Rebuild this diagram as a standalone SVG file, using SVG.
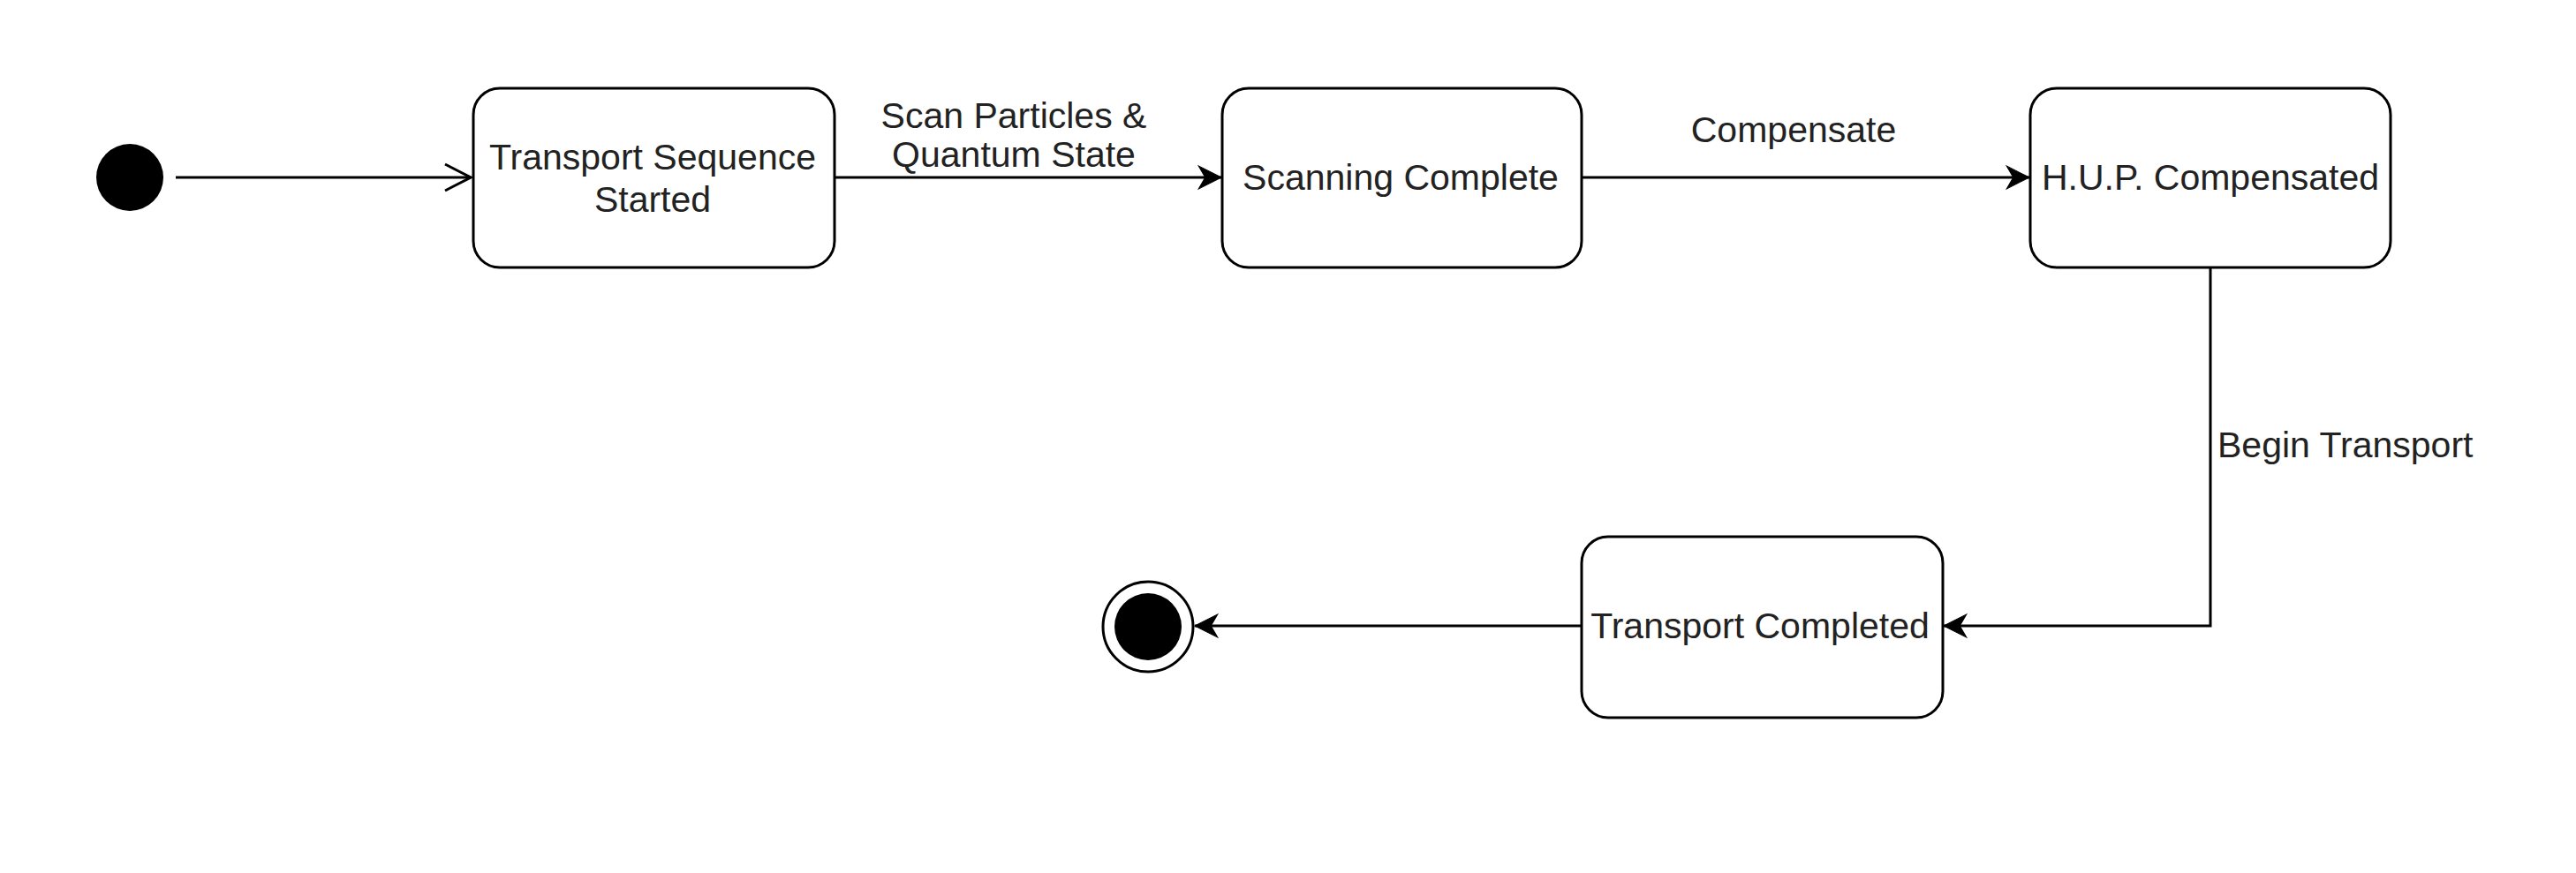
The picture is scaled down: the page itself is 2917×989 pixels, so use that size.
<svg xmlns="http://www.w3.org/2000/svg" width="2917" height="989" viewBox="0 0 2917 989">
  <style>
    .state { fill: #ffffff; stroke: #000000; stroke-width: 3; }
    .lbl { font-family: "Liberation Sans", Arial, sans-serif; font-size: 41px; fill: #222222; }
    .mid { text-anchor: middle; }
    .edge { fill: none; stroke: #000000; stroke-width: 3; }
  </style>
  <defs>
    <marker id="block" markerUnits="userSpaceOnUse" markerWidth="30" markerHeight="30" viewBox="-26 -14 28 28" refX="0" refY="0" orient="auto">
      <path d="M0,0 L-24,-12 L-17,0 L-24,12 Z" fill="#000000" stroke="#000000" stroke-width="1"/>
    </marker>
    <marker id="open" markerUnits="userSpaceOnUse" markerWidth="34" markerHeight="36" viewBox="-32 -17 34 34" refX="0" refY="0" orient="auto">
      <path d="M-29,-15 L0,0 L-29,15" fill="none" stroke="#000000" stroke-width="3"/>
    </marker>
  </defs>
  <rect width="2917" height="989" fill="#ffffff"/>

  <g id="connectors">
    <line class="edge" x1="199" y1="201" x2="533" y2="201" marker-end="url(#open)"/>
    <line class="edge" x1="945" y1="201" x2="1383" y2="201" marker-end="url(#block)"/>
    <line class="edge" x1="1791" y1="201" x2="2298" y2="201" marker-end="url(#block)"/>
    <polyline class="edge" points="2503,303 2503,709 2201,709" marker-end="url(#block)"/>
    <line class="edge" x1="1791" y1="709" x2="1353" y2="709" marker-end="url(#block)"/>
    <text class="lbl mid" x="1148" y="145">Scan Particles &amp;</text>
    <text class="lbl mid" x="1148" y="189">Quantum State</text>
    <text class="lbl mid" x="2031" y="161">Compensate</text>
    <text class="lbl" x="2511" y="518">Begin Transport</text>
  </g>

  <g id="initial">
    <circle cx="147" cy="201" r="38" fill="#000000"/>
  </g>

  <g id="transport-sequence-started">
    <rect class="state" x="536" y="100" width="409" height="203" rx="30" ry="30"/>
    <text class="lbl mid" x="739" y="192">Transport Sequence</text>
    <text class="lbl mid" x="739" y="240">Started</text>
  </g>

  <g id="scanning-complete">
    <rect class="state" x="1384" y="100" width="407" height="203" rx="30" ry="30"/>
    <text class="lbl mid" x="1586" y="215">Scanning Complete</text>
  </g>

  <g id="hup-compensated">
    <rect class="state" x="2299" y="100" width="408" height="203" rx="30" ry="30"/>
    <text class="lbl mid" x="2503" y="215">H.U.P. Compensated</text>
  </g>

  <g id="transport-completed">
    <rect class="state" x="1791" y="608" width="409" height="205" rx="30" ry="30"/>
    <text class="lbl mid" x="1993" y="723">Transport Completed</text>
  </g>

  <g id="final">
    <circle cx="1300" cy="710" r="51" fill="none" stroke="#000000" stroke-width="3"/>
    <circle cx="1300" cy="710" r="38" fill="#000000"/>
  </g>
</svg>
